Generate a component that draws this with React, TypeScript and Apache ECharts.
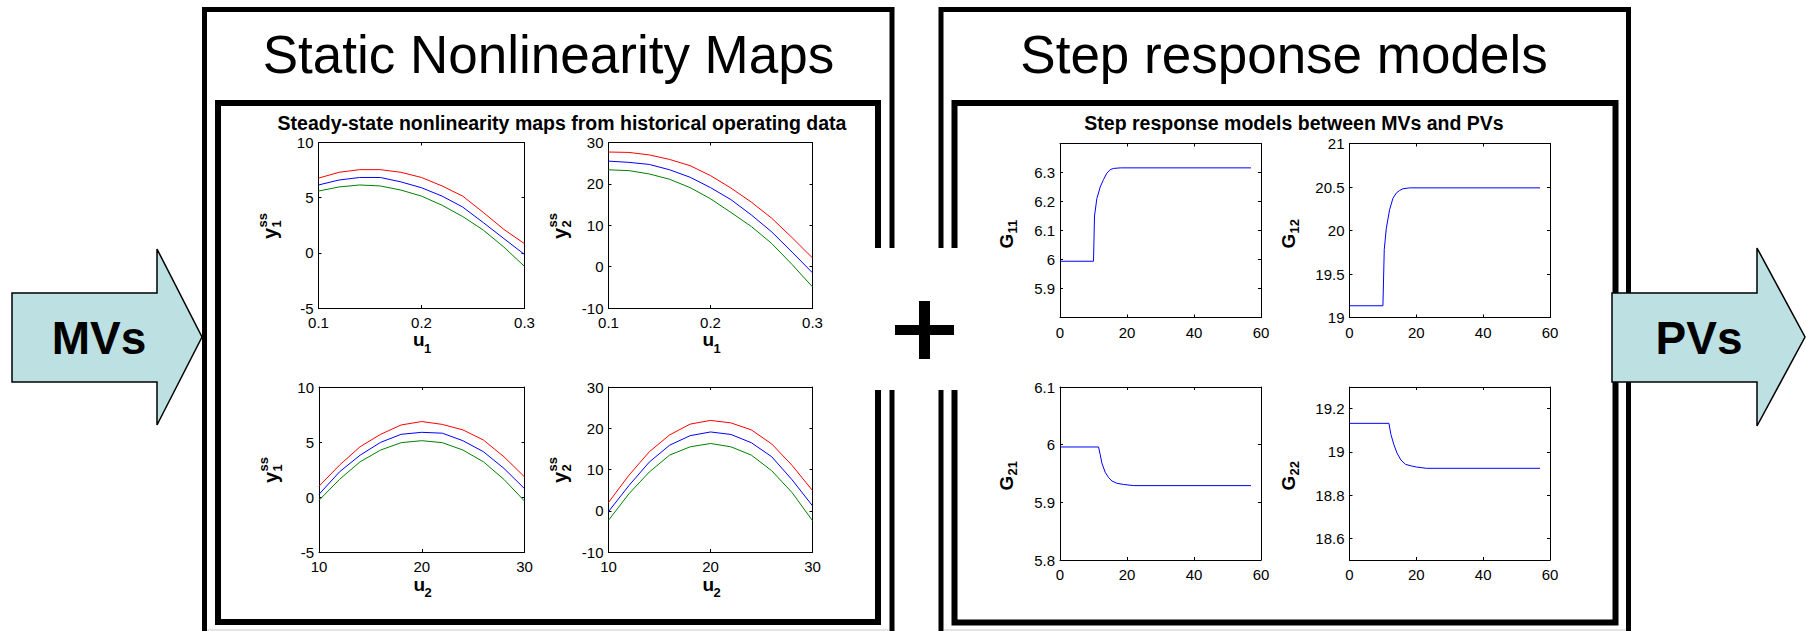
import React, { useEffect, useRef } from "react";
import * as echarts from "echarts";

const FONT = "'Liberation Sans', Arial, Helvetica, sans-serif";
const RED = "#ff0000";
const BLUE = "#0000ff";
const GREEN = "#008000";
const ARROW_FILL = "#bde0e3";

// Operating points of the manipulated variables
const u1Points = [0.1, 0.12, 0.14, 0.16, 0.18, 0.2, 0.22, 0.24, 0.26, 0.28, 0.3];
const u2Points = [10, 12, 14, 16, 18, 20, 22, 24, 26, 28, 30];

// Steady-state y1 against u1
const y1u1Red = [6.77, 7.3, 7.54, 7.54, 7.3, 6.83, 6.06, 5.14, 3.66, 2.12, 0.83];
const y1u1Blue = [6.15, 6.6, 6.83, 6.83, 6.43, 5.9, 5.14, 4.15, 2.74, 1.29, -0.15];
const y1u1Green = [5.6, 5.97, 6.15, 6.06, 5.69, 5.14, 4.31, 3.29, 2.06, 0.52, -1.23];

// Steady-state y2 against u1
const y2u1Red = [27.7, 27.6, 27.0, 25.9, 24.4, 22.0, 19.0, 15.6, 11.7, 7.0, 2.1];
const y2u1Blue = [25.5, 25.2, 24.7, 23.4, 21.6, 19.1, 16.2, 12.5, 8.4, 3.5, -1.5];
const y2u1Green = [23.4, 23.2, 22.4, 21.1, 19.1, 16.4, 13.1, 9.7, 5.6, 0.5, -4.9];

// Steady-state y1 against u2
const y1u2Red = [0.98, 2.9, 4.57, 5.7, 6.55, 6.86, 6.6, 6.1, 5.18, 3.66, 1.83];
const y1u2Blue = [0.24, 2.29, 3.8, 4.97, 5.7, 5.88, 5.8, 5.12, 4.12, 2.6, 0.76];
const y1u2Green = [-0.3, 1.6, 3.2, 4.27, 4.94, 5.12, 4.94, 4.27, 3.2, 1.6, -0.37];

// Steady-state y2 against u2
const y2u2Red = [2.0, 8.6, 14.3, 18.4, 21.0, 21.9, 21.3, 19.6, 16.2, 11.0, 4.9];
const y2u2Blue = [-0.2, 6.1, 11.8, 15.9, 18.2, 19.1, 18.5, 16.5, 13.1, 7.5, 1.2];
const y2u2Green = [-2.3, 4.1, 9.4, 13.5, 15.5, 16.3, 15.5, 13.5, 9.7, 4.4, -2.4];

// Step responses (time, output)
const g11Time = [0, 10, 10.3, 11, 12, 13, 14, 15, 16, 18, 57];
const g11Value = [5.994, 5.994, 6.15, 6.21, 6.25, 6.276, 6.298, 6.31, 6.314, 6.316, 6.316];
const g12Time = [0, 10, 10.4, 11, 12, 13, 14, 15, 16, 18, 57];
const g12Value = [19.135, 19.135, 19.78, 20.02, 20.24, 20.37, 20.43, 20.46, 20.48, 20.49, 20.49];
const g21Time = [0, 11.5, 12, 12.5, 13.5, 14.5, 15.5, 17, 19, 22, 57];
const g21Value = [5.996, 5.996, 5.983, 5.968, 5.952, 5.943, 5.937, 5.933, 5.931, 5.929, 5.929];
const g22Time = [0, 11.8, 12.4, 13.3, 14.2, 15.4, 16.8, 18.5, 20, 23, 57];
const g22Value = [19.132, 19.132, 19.08, 19.033, 18.995, 18.962, 18.942, 18.935, 18.93, 18.924, 18.924];

// Tick values
const u1Ticks = [0.1, 0.2, 0.3];
const u2Ticks = [10, 20, 30];
const y1Ticks = [-5, 0, 5, 10];
const y2Ticks = [-10, 0, 10, 20, 30];
const timeTicks = [0, 20, 40, 60];
const g11Ticks = [5.9, 6, 6.1, 6.2, 6.3];
const g12Ticks = [19, 19.5, 20, 20.5, 21];
const g21Ticks = [5.8, 5.9, 6, 6.1];
const g22Ticks = [18.6, 18.8, 19, 19.2];

type Line = [number[], number[], string];
type Panel = {
  box: [number, number, number, number];
  xRange: [number, number];
  yRange: [number, number];
  xTicks: number[];
  yTicks: number[];
  lines: Line[];
};

const panels: Panel[] = [
  {
    box: [318.5, 142.5, 206, 165.5], xRange: [0.1, 0.3], yRange: [-5, 10], xTicks: u1Ticks, yTicks: y1Ticks,
    lines: [[u1Points, y1u1Red, RED], [u1Points, y1u1Blue, BLUE], [u1Points, y1u1Green, GREEN]],
  },
  {
    box: [608.5, 142.5, 204, 165.5], xRange: [0.1, 0.3], yRange: [-10, 30], xTicks: u1Ticks, yTicks: y2Ticks,
    lines: [[u1Points, y2u1Red, RED], [u1Points, y2u1Blue, BLUE], [u1Points, y2u1Green, GREEN]],
  },
  {
    box: [319, 387, 205.5, 165], xRange: [10, 30], yRange: [-5, 10], xTicks: u2Ticks, yTicks: y1Ticks,
    lines: [[u2Points, y1u2Red, RED], [u2Points, y1u2Blue, BLUE], [u2Points, y1u2Green, GREEN]],
  },
  {
    box: [608.5, 387, 204, 165], xRange: [10, 30], yRange: [-10, 30], xTicks: u2Ticks, yTicks: y2Ticks,
    lines: [[u2Points, y2u2Red, RED], [u2Points, y2u2Blue, BLUE], [u2Points, y2u2Green, GREEN]],
  },
  {
    box: [1060, 143.5, 201, 174], xRange: [0, 60], yRange: [5.8, 6.4], xTicks: timeTicks, yTicks: g11Ticks,
    lines: [[g11Time, g11Value, BLUE]],
  },
  {
    box: [1349.5, 143.5, 200.5, 174], xRange: [0, 60], yRange: [19, 21], xTicks: timeTicks, yTicks: g12Ticks,
    lines: [[g12Time, g12Value, BLUE]],
  },
  {
    box: [1060, 387, 201, 173], xRange: [0, 60], yRange: [5.8, 6.1], xTicks: timeTicks, yTicks: g21Ticks,
    lines: [[g21Time, g21Value, BLUE]],
  },
  {
    box: [1349.5, 387, 200.5, 173], xRange: [0, 60], yRange: [18.5, 19.3], xTicks: timeTicks, yTicks: g22Ticks,
    lines: [[g22Time, g22Value, BLUE]],
  },
];

const zip = (xs: number[], ys: number[]) => xs.map((x, i) => [x, ys[i]]);

const axisLine = { show: true, onZero: false, lineStyle: { color: "#000", width: 1 } };
const ticks = (vals: number[]) => ({
  show: true, inside: true, length: 3, customValues: vals, lineStyle: { color: "#000", width: 1 },
});
const labels = (vals: number[], margin: number) => ({
  show: true, customValues: vals, fontSize: 15, fontFamily: FONT, color: "#000", margin, hideOverlap: false,
});
const hidden = { show: false };

function text(x: number, y: number, t: string, size: number, bold: boolean, align = "center") {
  return {
    type: "text", x, y, silent: true,
    style: {
      text: t, fontSize: size, fontWeight: bold ? "bold" : "normal", fontFamily: FONT,
      fill: "#000", align, verticalAlign: "middle",
    },
  };
}

// Vertical axis name: main letter with stacked super/subscript, reading bottom to top
function yName(cx: number, cy: number, sub: string) {
  return {
    type: "group", x: cx, y: cy, rotation: Math.PI / 2, silent: true,
    children: [
      text(-13, 0, "y", 20, true, "left"),
      text(-1.5, -7.5, "ss", 13, true, "left"),
      text(-1.5, 6, sub, 13, true, "left"),
    ],
  };
}

function gName(cx: number, cy: number, sub: string) {
  return {
    type: "group", x: cx, y: cy, rotation: Math.PI / 2, silent: true,
    children: [
      text(-15, 0, "G", 19, true, "left"),
      text(0, 6, sub, 13, true, "left"),
    ],
  };
}

function uName(cx: number, cy: number, sub: string) {
  return {
    type: "group", x: cx, y: cy, silent: true,
    children: [
      text(-8, 0, "u", 19, true, "left"),
      text(3, 8.5, sub, 13, true, "left"),
    ],
  };
}

function frame(points: number[][], width: number) {
  return {
    type: "polyline", silent: true,
    shape: { points },
    style: { stroke: "#000", lineWidth: width, lineJoin: "miter", lineCap: "butt", fill: null },
  };
}

function arrow(points: number[][]) {
  return {
    type: "polygon", silent: true,
    shape: { points },
    style: { fill: ARROW_FILL, stroke: "#000", lineWidth: 1.5, lineJoin: "miter" },
  };
}

function buildOption() {
  const grid: any[] = [];
  const xAxis: any[] = [];
  const yAxis: any[] = [];
  const series: any[] = [];

  panels.forEach((p, i) => {
    grid.push({
      left: p.box[0], top: p.box[1], width: p.box[2], height: p.box[3],
      containLabel: false, outerBoundsMode: "none", show: false,
    });
    const common = { type: "value", gridIndex: i, splitLine: hidden, axisLine };
    xAxis.push({
      ...common, position: "bottom", min: p.xRange[0], max: p.xRange[1],
      axisTick: ticks(p.xTicks), axisLabel: labels(p.xTicks, 7),
    });
    xAxis.push({
      ...common, position: "top", min: p.xRange[0], max: p.xRange[1],
      axisTick: ticks(p.xTicks), axisLabel: hidden,
    });
    yAxis.push({
      ...common, position: "left", min: p.yRange[0], max: p.yRange[1],
      axisTick: ticks(p.yTicks), axisLabel: labels(p.yTicks, 5),
    });
    yAxis.push({
      ...common, position: "right", min: p.yRange[0], max: p.yRange[1],
      axisTick: ticks(p.yTicks), axisLabel: hidden,
    });
    p.lines.forEach(([xs, ys, color]) => {
      series.push({
        type: "line", xAxisIndex: 2 * i, yAxisIndex: 2 * i, data: zip(xs, ys),
        showSymbol: false, symbol: "none", silent: true, clip: true,
        lineStyle: { color, width: 1 }, itemStyle: { color },
      });
    });
  });

  const elements: any[] = [
    // Left panel frames (opening beside the plus sign)
    frame([[892, 248], [892, 9.5], [204.5, 9.5], [204.5, 645]], 5),
    frame([[892, 390], [892, 645]], 5),
    frame([[878, 248], [878, 103], [218, 103], [218, 622], [878, 622], [878, 390]], 6),
    // Right panel frames
    frame([[941, 248], [941, 9.5], [1628.5, 9.5], [1628.5, 645]], 5),
    frame([[941, 390], [941, 645]], 5),
    frame([[954.5, 248], [954.5, 103], [1615.5, 103], [1615.5, 622.5], [954.5, 622.5], [954.5, 390]], 6),
    // Faint lower edge
    { type: "line", silent: true, shape: { x1: 207, y1: 630, x2: 889, y2: 630 }, style: { stroke: "#e4e4e4", lineWidth: 2 } },
    { type: "line", silent: true, shape: { x1: 944, y1: 630, x2: 1626, y2: 630 }, style: { stroke: "#e4e4e4", lineWidth: 2 } },

    // Panel headings
    text(548.5, 54, "Static Nonlinearity Maps", 53, false),
    text(1284, 54, "Step response models", 53, false),
    text(562, 123, "Steady-state nonlinearity maps from historical operating data", 19.5, true),
    text(1294, 123, "Step response models between MVs and PVs", 19.5, true),

    // Axis names
    yName(270, 226, "1"),
    yName(560, 226, "2"),
    yName(271, 470, "1"),
    yName(560, 470, "2"),
    uName(421, 339.5, "1"),
    uName(710.5, 339.5, "1"),
    uName(421.5, 584, "2"),
    uName(710.5, 584, "2"),
    gName(1006.5, 233.5, "11"),
    gName(1288.5, 233.5, "12"),
    gName(1006.5, 475.5, "21"),
    gName(1288.5, 475.5, "22"),

    // Plus sign
    { type: "rect", silent: true, shape: { x: 919, y: 301, width: 11, height: 58 }, style: { fill: "#000" } },
    { type: "rect", silent: true, shape: { x: 895, y: 325, width: 59, height: 10 }, style: { fill: "#000" } },

    // Input / output arrows
    arrow([[12, 293], [157, 293], [157, 249], [202, 337], [157, 425], [157, 382], [12, 382]]),
    text(99, 338, "MVs", 46, true),
    arrow([[1612, 293], [1757, 293], [1757, 248], [1805, 337], [1757, 426], [1757, 382], [1612, 382]]),
    text(1699, 338, "PVs", 46, true),
  ];

  return {
    animation: false,
    backgroundColor: "#ffffff",
    textStyle: { fontFamily: FONT },
    grid,
    xAxis,
    yAxis,
    series,
    graphic: { elements },
  };
}

export default function App() {
  const ref = useRef<HTMLDivElement>(null);
  useEffect(() => {
    if (!ref.current) return;
    const chart = echarts.init(ref.current, null, { renderer: "svg", width: 1806, height: 631 });
    chart.setOption(buildOption() as any);
    return () => chart.dispose();
  }, []);
  return (
    <div
      ref={ref}
      style={{ position: "fixed", left: 0, top: 0, width: 1806, height: 631, background: "#fff" }}
    />
  );
}
